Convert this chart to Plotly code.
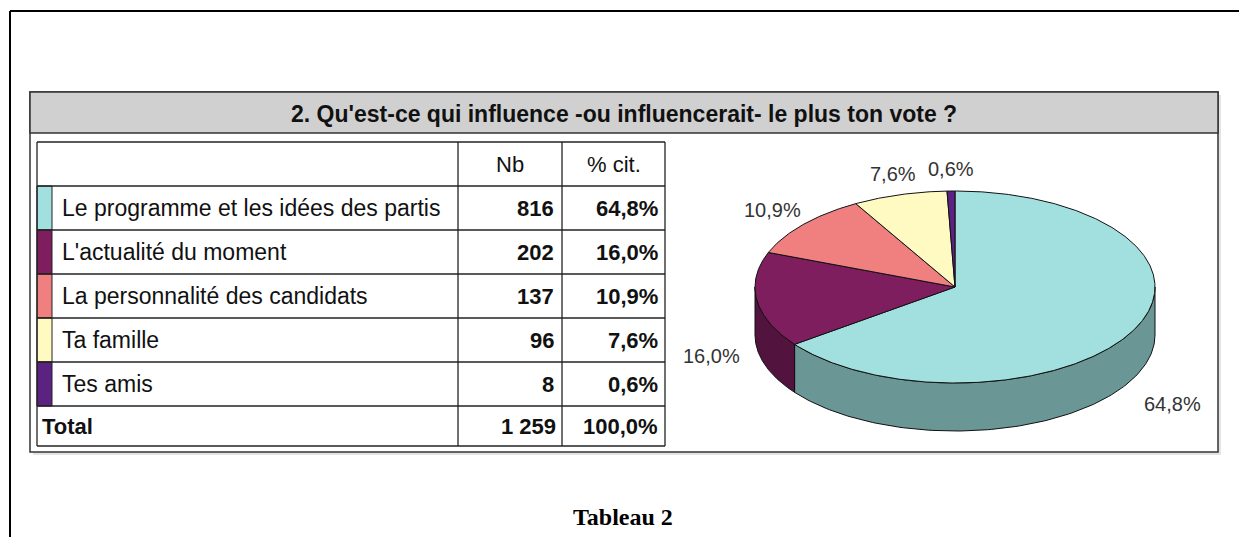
import numpy as np
import plotly.graph_objects as go

# ---------------- data ----------------
categories = [
    "Le programme et les idées des partis",
    "L'actualité du moment",
    "La personnalité des candidats",
    "Ta famille",
    "Tes amis",
]
counts = [816, 202, 137, 96, 8]
pct_labels = ["64,8%", "16,0%", "10,9%", "7,6%", "0,6%"]
count_labels = ["816", "202", "137", "96", "8"]
total_label = "Total"
total_count_label = "1 259"
total_pct_label = "100,0%"
col_headers = ["Nb", "% cit."]
title_text = "2. Qu'est-ce qui influence -ou influencerait- le plus ton vote ?"
caption_text = "Tableau 2"

top_colors = ["#A2E0E0", "#7E1E5E", "#F08080", "#FFFAC2", "#5C2282"]
side_colors = ["#6A9696", "#52143E", "#A85858", "#B3AF88", "#3E1658"]

# ---------------- layout constants ----------------
W, H = 1247, 537
OFF = 8  # default body margin of the html page
FIG_W, FIG_H = W - OFF, H - OFF
FONT = "Liberation Sans, Arial, sans-serif"
FRAME_X0, FRAME_Y0, FRAME_X1, FRAME_Y1 = 30, 92, 1218, 452
TITLE_Y1 = 133
COL_X = [37, 52, 458, 562, 665]       # table column edges
TAB_Y0 = 142
HEADER_H = 44
ROW_H = 44
TOTAL_H = 40
CX, CY, RX, RY, DEPTH = 955, 287, 200, 96, 48
TXT = "#111111"

shapes = []
annotations = []

# page border (top & left) drawn in paper coordinates
shapes.append(dict(type="line", xref="paper", yref="paper",
                   x0=(10 - OFF) / FIG_W, x1=1.0, y0=1 - (11 - OFF) / FIG_H, y1=1 - (11 - OFF) / FIG_H,
                   line=dict(color="black", width=2)))
shapes.append(dict(type="line", xref="paper", yref="paper",
                   x0=(10 - OFF) / FIG_W, x1=(10 - OFF) / FIG_W, y0=1 - (11 - OFF) / FIG_H, y1=0.0,
                   line=dict(color="black", width=2)))

# frame shadow + frame
shapes.append(dict(type="rect", x0=FRAME_X0 + 3, y0=FRAME_Y0 + 3, x1=FRAME_X1 + 3, y1=FRAME_Y1 + 3,
                   line=dict(width=0), fillcolor="#E4E4E4", layer="below"))
shapes.append(dict(type="rect", x0=FRAME_X0, y0=FRAME_Y0, x1=FRAME_X1, y1=FRAME_Y1,
                   line=dict(color="#333333", width=1.5), fillcolor="white", layer="below"))
shapes.append(dict(type="rect", x0=FRAME_X0, y0=FRAME_Y0, x1=FRAME_X1, y1=TITLE_Y1,
                   line=dict(color="#333333", width=1.5), fillcolor="#D0D0D0", layer="below"))
annotations.append(dict(x=(FRAME_X0 + FRAME_X1) / 2, y=(FRAME_Y0 + TITLE_Y1) / 2 + 1, text="<b>" + title_text + "</b>",
                        showarrow=False, xanchor="center", yanchor="middle",
                        font=dict(family=FONT, size=23, color=TXT)))

# ---------------- table ----------------
n = len(categories)
row_edges = [TAB_Y0, TAB_Y0 + HEADER_H]
for i in range(n):
    row_edges.append(row_edges[-1] + ROW_H)
row_edges.append(row_edges[-1] + TOTAL_H)

# colour strips
for i, c in enumerate(top_colors):
    shapes.append(dict(type="rect", x0=COL_X[0], x1=COL_X[1], y0=row_edges[i + 1], y1=row_edges[i + 2],
                       fillcolor=c, line=dict(color="#222222", width=1), layer="above"))

line_style = dict(color="#222222", width=1.3)
for y in row_edges:
    shapes.append(dict(type="line", x0=COL_X[0], x1=COL_X[-1], y0=y, y1=y, line=line_style))
for x in [COL_X[0], COL_X[2], COL_X[3], COL_X[4]]:
    shapes.append(dict(type="line", x0=x, x1=x, y0=row_edges[0], y1=row_edges[-1], line=line_style))


def mid(a, b):
    return (a + b) / 2


# header
for j, hdr in enumerate(col_headers):
    annotations.append(dict(x=mid(COL_X[2 + j], COL_X[3 + j]), y=mid(row_edges[0], row_edges[1]), text=hdr,
                            showarrow=False, xanchor="center", yanchor="middle",
                            font=dict(family=FONT, size=22, color=TXT)))
# rows
for i in range(n):
    yc = mid(row_edges[i + 1], row_edges[i + 2])
    annotations.append(dict(x=COL_X[1] + 8, y=yc, text=categories[i], showarrow=False,
                            xanchor="left", yanchor="middle", font=dict(family=FONT, size=23, color=TXT)))
    annotations.append(dict(x=COL_X[3] - 6, y=yc, text="<b>" + count_labels[i] + "</b>", showarrow=False,
                            xanchor="right", yanchor="middle", font=dict(family=FONT, size=22, color=TXT)))
    annotations.append(dict(x=COL_X[4] - 5, y=yc, text="<b>" + pct_labels[i] + "</b>", showarrow=False,
                            xanchor="right", yanchor="middle", font=dict(family=FONT, size=22, color=TXT)))
# total row
yc = mid(row_edges[-2], row_edges[-1])
annotations.append(dict(x=COL_X[0] + 3, y=yc, text="<b>" + total_label + "</b>", showarrow=False,
                        xanchor="left", yanchor="middle", font=dict(family=FONT, size=22, color=TXT)))
annotations.append(dict(x=COL_X[3] - 4, y=yc, text="<b>" + total_count_label + "</b>", showarrow=False,
                        xanchor="right", yanchor="middle", font=dict(family=FONT, size=22, color=TXT)))
annotations.append(dict(x=COL_X[4] - 5, y=yc, text="<b>" + total_pct_label + "</b>", showarrow=False,
                        xanchor="right", yanchor="middle", font=dict(family=FONT, size=22, color=TXT)))

# ---------------- 3D pie ----------------
vals = np.array(counts, dtype=float)
fracs = vals / vals.sum()
bounds = np.concatenate([[0.0], np.cumsum(fracs) * 360.0])


def ell(theta_deg, dy=0.0):
    t = np.radians(theta_deg)
    return CX + RX * np.sin(t), CY - RY * np.cos(t) + dy


fig = go.Figure()

# side faces (front half: 90..270 deg clockwise from top)
for i in range(n):
    a, b = max(bounds[i], 90.0), min(bounds[i + 1], 270.0)
    if b <= a:
        continue
    th = np.linspace(a, b, 120)
    xt, yt = ell(th)
    xb, yb = ell(th[::-1], DEPTH)
    xs = np.concatenate([xt, xb, xt[:1]])
    ys = np.concatenate([yt, yb, yt[:1]])
    fig.add_trace(go.Scatter(x=xs, y=ys, mode="lines", fill="toself", fillcolor=side_colors[i],
                             line=dict(color="#111111", width=1), hoverinfo="skip"))

# top faces
for i in range(n):
    th = np.linspace(bounds[i], bounds[i + 1], max(4, int((bounds[i + 1] - bounds[i]) * 2)))
    xt, yt = ell(th)
    xs = np.concatenate([[CX], xt, [CX]])
    ys = np.concatenate([[CY], yt, [CY]])
    fig.add_trace(go.Scatter(x=xs, y=ys, mode="lines", fill="toself", fillcolor=top_colors[i],
                             line=dict(color="#111111", width=1), hoverinfo="skip",
                             name=categories[i]))

# slice labels (placed outside the pie, along each slice's mid angle)
for i in range(n):
    m = np.radians((bounds[i] + bounds[i + 1]) / 2)
    s, c = np.sin(m), np.cos(m)
    lx = CX + RX * (1 + 0.23 * np.sqrt(abs(s))) * s
    if c >= 0:
        ly = CY - RY * 1.23 * c
    else:
        ly = CY - RY * 1.6 * c + DEPTH
    annotations.append(dict(x=lx, y=ly, text=pct_labels[i], showarrow=False, xanchor="center",
                            yanchor="middle", font=dict(family=FONT, size=20, color="#333333")))

# caption
annotations.append(dict(x=623, y=517, text="<b>" + caption_text + "</b>", showarrow=False,
                        xanchor="center", yanchor="middle",
                        font=dict(family="Liberation Serif, Times New Roman, serif", size=24, color="black")))

fig.update_layout(
    width=FIG_W, height=FIG_H, autosize=False,
    margin=dict(l=0, r=0, t=0, b=0),
    paper_bgcolor="white", plot_bgcolor="white",
    showlegend=False,
    xaxis=dict(range=[OFF, OFF + FIG_W], visible=False, fixedrange=True),
    yaxis=dict(range=[OFF + FIG_H, OFF], visible=False, fixedrange=True),
    shapes=shapes,
    annotations=annotations,
)

fig.write_html(
    "out.html",
    config={"displayModeBar": False},
    post_script="document.documentElement.style.overflow='hidden';document.body.style.overflow='hidden';",
)
